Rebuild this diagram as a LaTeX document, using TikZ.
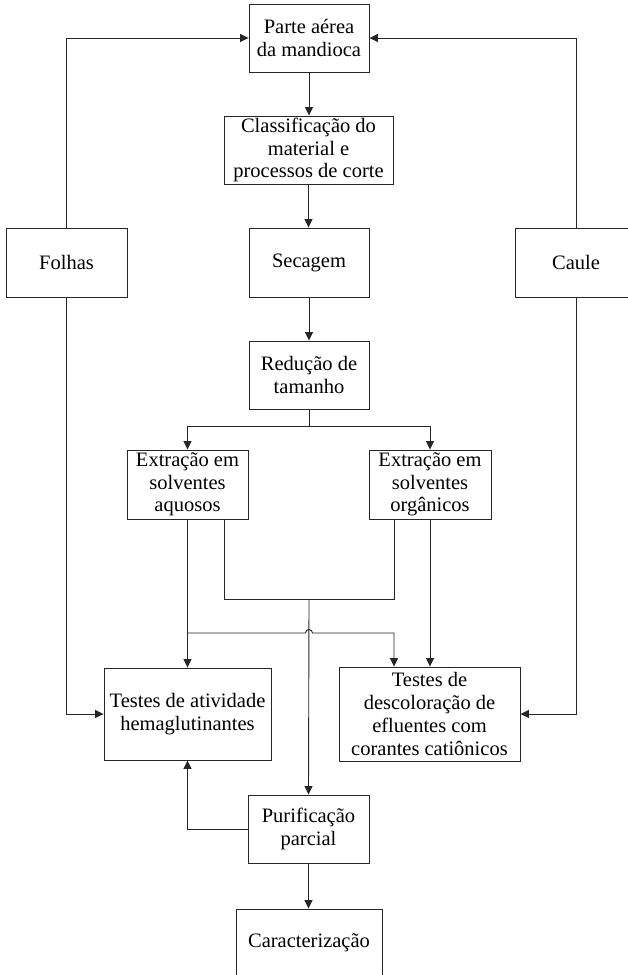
\documentclass[tikz,border=0pt]{standalone}
\usepackage{fontspec}
\setmainfont{Liberation Serif}
\usetikzlibrary{arrows.meta,calc}
\begin{document}
\begin{tikzpicture}[x=1pt,y=1pt,
  box/.style={draw=black!85,line width=0.9pt,rectangle,inner sep=0pt,align=center,
    font=\fontsize{20.5}{22.7}\selectfont},
  link/.style={draw=black!85,line width=0.9pt},
  arr/.style={link,-{Triangle[width=8pt,length=8.5pt]}}]
\useasboundingbox (0,0) rectangle (628,-975);
\node[box,minimum width=120,minimum height=68] (parte) at (309,-38) {Parte aérea\\da mandioca};
\node[box,minimum width=169,minimum height=68] (classif) at (308.5,-150) {Classificação do\\material e\\processos de corte};
\node[box,minimum width=121,minimum height=69] (folhas) at (66.5,-262.5) {Folhas};
\node[box,minimum width=120,minimum height=69] (secagem) at (309,-262.5) {Secagem};
\node[box,minimum width=121,minimum height=69] (caule) at (576,-262.5) {Caule};
\node[box,minimum width=120,minimum height=68] (reducao) at (309,-375) {Redução de\\tamanho};
\node[box,minimum width=121,minimum height=69] (aquosos) at (187.5,-484.5) {Extração em\\solventes\\aquosos};
\node[box,minimum width=122,minimum height=69] (organicos) at (430,-484.5) {Extração em\\solventes\\orgânicos};
\node[box,minimum width=167,minimum height=92] (hema) at (187.5,-714) {Testes de atividade\\hemaglutinantes};
\node[box,minimum width=181,minimum height=94] (desc) at (429.5,-714) {Testes de\\descoloração de\\efluentes com\\corantes catiônicos};
\node[box,minimum width=121,minimum height=68] (purif) at (308.5,-829) {Purificação\\parcial};
\node[box,minimum width=146,minimum height=68] (carac) at (309,-943) {Caracterização};

% top loop
\draw[arr] (folhas.north) |- (parte.west);
\draw[arr] (caule.north) |- (parte.east);
\draw[arr] (parte.south) -- (parte.south |- classif.north);
\draw[arr] (classif.south) -- (classif.south |- secagem.north);
\draw[arr] (secagem.south) -- (reducao.north);
% split
\coordinate (split) at (309,-426);
\draw[link] (reducao.south) -- (split);
\draw[arr] (split) -| (aquosos.north);
\draw[arr] (split) -| (organicos.north);
% extraction outputs
\coordinate (join) at (309,-599);
\draw[link] ([xshift=36.5]aquosos.south) |- (join);
\draw[link] ([xshift=-36]organicos.south) |- (join);
\draw[arr] (join) -- (purif.north);
\draw[arr] (aquosos.south) -- (hema.north);
\draw[arr] (organicos.south) -- (organicos.south |- desc.north);
\coordinate (b1) at (187.5,-633);
\coordinate (descin) at ([xshift=-35.5]desc.north);
\draw[arr] (b1) -- ($(b1 -| join)+(-3.5,0)$) arc[start angle=180,end angle=0,radius=3.5] -- (b1 -| descin) -- (descin);
% side feeds
\draw[arr] (folhas.south) |- (hema.west);
\draw[arr] (caule.south) |- (desc.east);
% purification
\draw[arr] (purif.west) -| (hema.south);
\draw[arr] (purif.south) -- (purif.south |- carac.north);
\end{tikzpicture}
\end{document}
